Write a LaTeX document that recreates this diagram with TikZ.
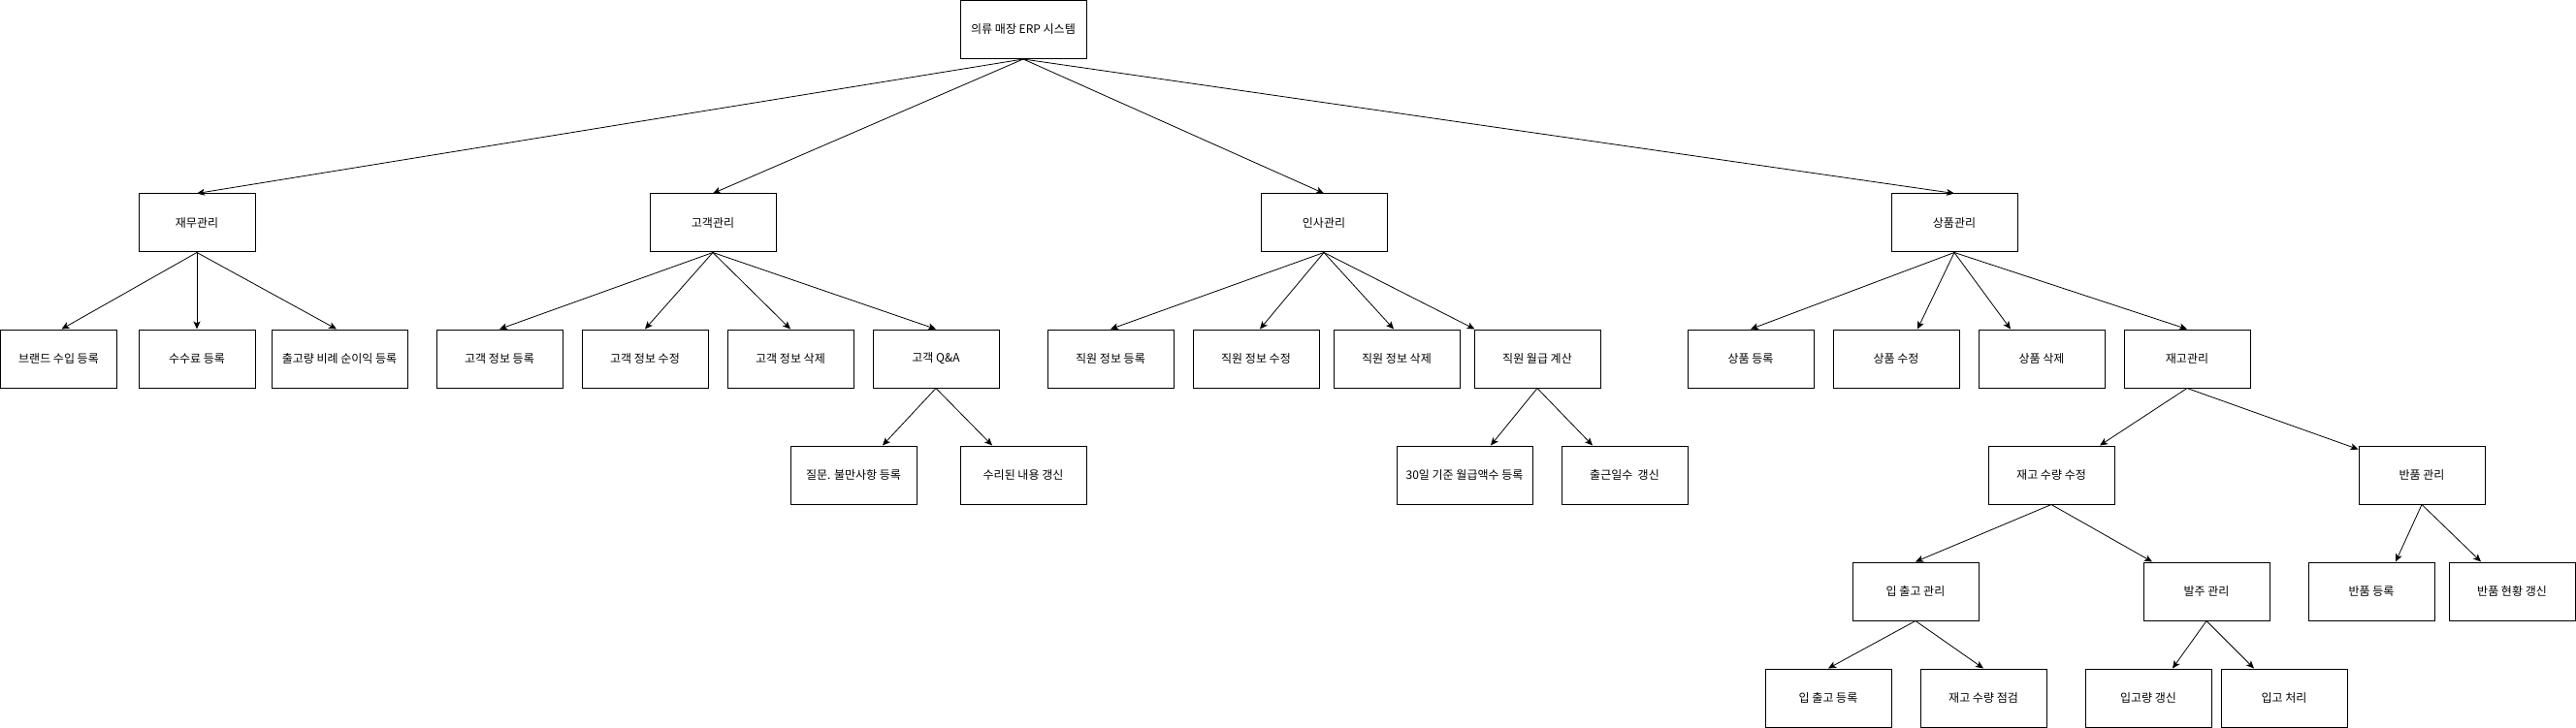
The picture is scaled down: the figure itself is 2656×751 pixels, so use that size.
\documentclass[tikz,border=0pt]{standalone}
\usepackage{fontspec}
\setmainfont{Noto Sans CJK KR}
\usetikzlibrary{arrows.meta}
\begin{document}
\begin{tikzpicture}[x=1pt,y=-1pt,
  box/.style={draw=black,line width=1pt,minimum height=60pt,inner sep=0pt,font=\fontsize{12}{14}\selectfont,fill=white},
  w120/.style={minimum width=120pt},
  w130/.style={minimum width=130pt},
  w140/.style={minimum width=140pt},
  link/.style={draw=black,line width=0.8pt,-{Stealth[length=8pt,width=7pt,inset=2pt]}}
]
\useasboundingbox (0,0) rectangle (2656,751);
% level 0
\node[box,w130] (root) at (1055,30.5) {의류 매장 ERP 시스템};
% level 1
\node[box,w120] (jm) at (203,230) {재무관리};
\node[box,w130] (gg) at (735,230) {고객관리};
\node[box,w130] (is) at (1365,230) {인사관리};
\node[box,w130] (sp) at (2015,230) {상품관리};
% level 2
\node[box,w120] (b1) at (60.5,370) {브랜드 수입 등록};
\node[box,w120] (b2) at (203,370) {수수료 등록};
\node[box,w140] (b3) at (350,370) {출고량 비례 순이익 등록};
\node[box,w130] (c1) at (515,370) {고객 정보 등록};
\node[box,w130] (c2) at (665,370) {고객 정보 수정};
\node[box,w130] (c3) at (815,370) {고객 정보 삭제};
\node[box,w130] (c4) at (965,370) {고객 Q\&A};
\node[box,w130] (e1) at (1145,370) {직원 정보 등록};
\node[box,w130] (e2) at (1295,370) {직원 정보 수정};
\node[box,w130] (e3) at (1440,370) {직원 정보 삭제};
\node[box,w130] (e4) at (1585,370) {직원 월급 계산};
\node[box,w130] (p1) at (1805,370) {상품 등록};
\node[box,w130] (p2) at (1955,370) {상품 수정};
\node[box,w130] (p3) at (2105,370) {상품 삭제};
\node[box,w130] (p4) at (2255,370) {재고관리};
% level 3
\node[box,w130] (q1) at (880,490) {질문. 불만사항 등록};
\node[box,w130] (q2) at (1055,490) {수리된 내용 갱신};
\node[box,w140] (s1) at (1510,490) {30일 기준 월급액수 등록};
\node[box,w130] (s2) at (1675,490) {출근일수\ \ 갱신};
\node[box,w130] (i1) at (2115,490) {재고 수량 수정};
\node[box,w130] (r0) at (2497,490) {반품 관리};
% level 4
\node[box,w130] (io) at (1975,610) {입 출고 관리};
\node[box,w130] (od) at (2275,610) {발주 관리};
\node[box,w130] (r1) at (2445,610) {반품 등록};
\node[box,w130] (r2) at (2590,610) {반품 현황 갱신};
% level 5
\node[box,w130] (io1) at (1885,720) {입 출고 등록};
\node[box,w130] (io2) at (2045,720) {재고 수량 점검};
\node[box,w130] (od1) at (2215,720) {입고량 갱신};
\node[box,w130] (od2) at (2355,720) {입고 처리};
% connectors
\draw[link] (root.south) -- (jm.north);
\draw[link] (root.south) -- (gg.north);
\draw[link] (root.south) -- (is.north);
\draw[link] (root.south) -- (sp.north);
\draw[link] (jm.south) -- ([xshift=3pt]b1.north);
\draw[link] (jm.south) -- (b2.north);
\draw[link] (jm.south) -- ([xshift=-3pt]b3.north);
\draw[link] (gg.south) -- (c1.north);
\draw[link] (gg.south) -- (c2.north);
\draw[link] (gg.south) -- (c3.north);
\draw[link] (gg.south) -- (c4.north);
\draw[link] (is.south) -- (e1.north);
\draw[link] (is.south) -- ([xshift=4pt]e2.north);
\draw[link] (is.south) -- ([xshift=-3pt]e3.north);
\draw[link] (is.south) -- ([xshift=1pt]e4.north west);
\draw[link] (sp.south) -- (p1.north);
\draw[link] (sp.south) -- ([xshift=22pt]p2.north);
\draw[link] (sp.south) -- ([xshift=-32pt]p3.north);
\draw[link] (sp.south) -- (p4.north);
\draw[link] (c4.south) -- ([xshift=30pt]q1.north);
\draw[link] (c4.south) -- ([xshift=-32pt]q2.north);
\draw[link] (e4.south) -- ([xshift=27pt]s1.north);
\draw[link] (e4.south) -- ([xshift=-33pt]s2.north);
\draw[link] (p4.south) -- ([xshift=50pt]i1.north);
\draw[link] (p4.south) -- ([yshift=-4pt]r0.north west);
\draw[link] (i1.south) -- (io.north);
\draw[link] (i1.south) -- ([xshift=-56pt]od.north);
\draw[link] (r0.south) -- ([xshift=25pt]r1.north);
\draw[link] (r0.south) -- ([xshift=-32pt]r2.north);
\draw[link] (io.south) -- (io1.north);
\draw[link] (io.south) -- (io2.north);
\draw[link] (od.south) -- ([xshift=25pt]od1.north);
\draw[link] (od.south) -- ([xshift=-31pt]od2.north);
\end{tikzpicture}
\end{document}
